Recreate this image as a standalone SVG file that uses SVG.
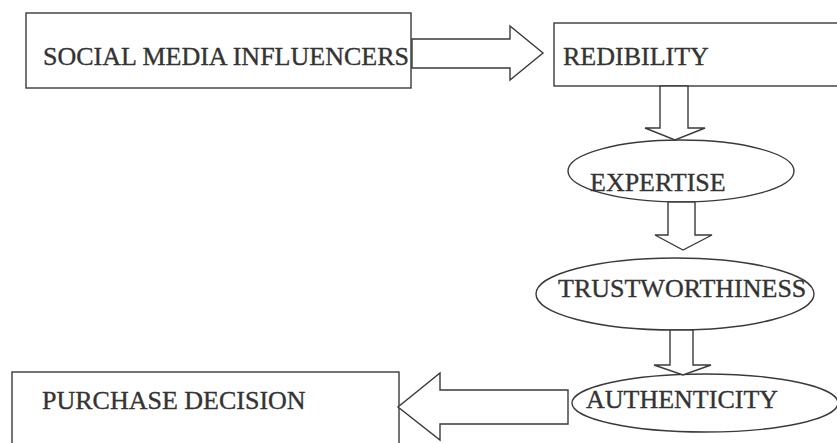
<svg xmlns="http://www.w3.org/2000/svg" width="837" height="443" viewBox="0 0 837 443">
<style>
.shape{fill:#fff;stroke:#3a3a3a;stroke-width:1.4}
.arrow{fill:#fff;stroke:#3a3a3a;stroke-width:1.4;stroke-linejoin:miter}
.lbl{font-family:"Liberation Serif","Times New Roman",serif;font-size:26px;fill:#333;stroke:#333;stroke-width:0.35}
</style>
<rect width="837" height="443" fill="#fff"/>
<g id="node-influencers">
<rect class="shape" x="26" y="13" width="385" height="75"/>
<text class="lbl" x="43" y="65">SOCIAL MEDIA INFLUENCERS</text>
</g>
<g id="node-credibility">
<rect class="shape" x="554" y="23" width="300" height="63"/>
<text class="lbl" x="563" y="65">REDIBILITY</text>
</g>
<g id="node-expertise">
<ellipse class="shape" cx="681" cy="171" rx="113" ry="31"/>
<text class="lbl" x="590" y="191">EXPERTISE</text>
</g>
<g id="node-trustworthiness">
<ellipse class="shape" cx="675" cy="294" rx="139" ry="36"/>
<text class="lbl" x="558" y="297">TRUSTWORTHINESS</text>
</g>
<g id="node-authenticity">
<ellipse class="shape" cx="705" cy="403" rx="133" ry="29"/>
<text class="lbl" x="586" y="408">AUTHENTICITY</text>
</g>
<g id="node-purchase">
<rect class="shape" x="12" y="372" width="387" height="80"/>
<text class="lbl" x="42" y="409">PURCHASE DECISION</text>
</g>
<g id="connectors">
<polygon class="arrow" points="412,39 510,39 510,26 543,53 510,80 510,68 412,68"/>
<polygon class="arrow" points="660,86 688,86 688,128 705,128 675,140 645,128 660,128"/>
<polygon class="arrow" points="668,202 695,202 695,235 712,235 683,250 655,235 668,235"/>
<polygon class="arrow" points="670,330 693,330 693,365 711,365 683,375 654,365 670,365"/>
<polygon class="arrow" points="568,390 440,390 440,373 398,407 440,440 440,424 568,424"/>
</g>
</svg>
